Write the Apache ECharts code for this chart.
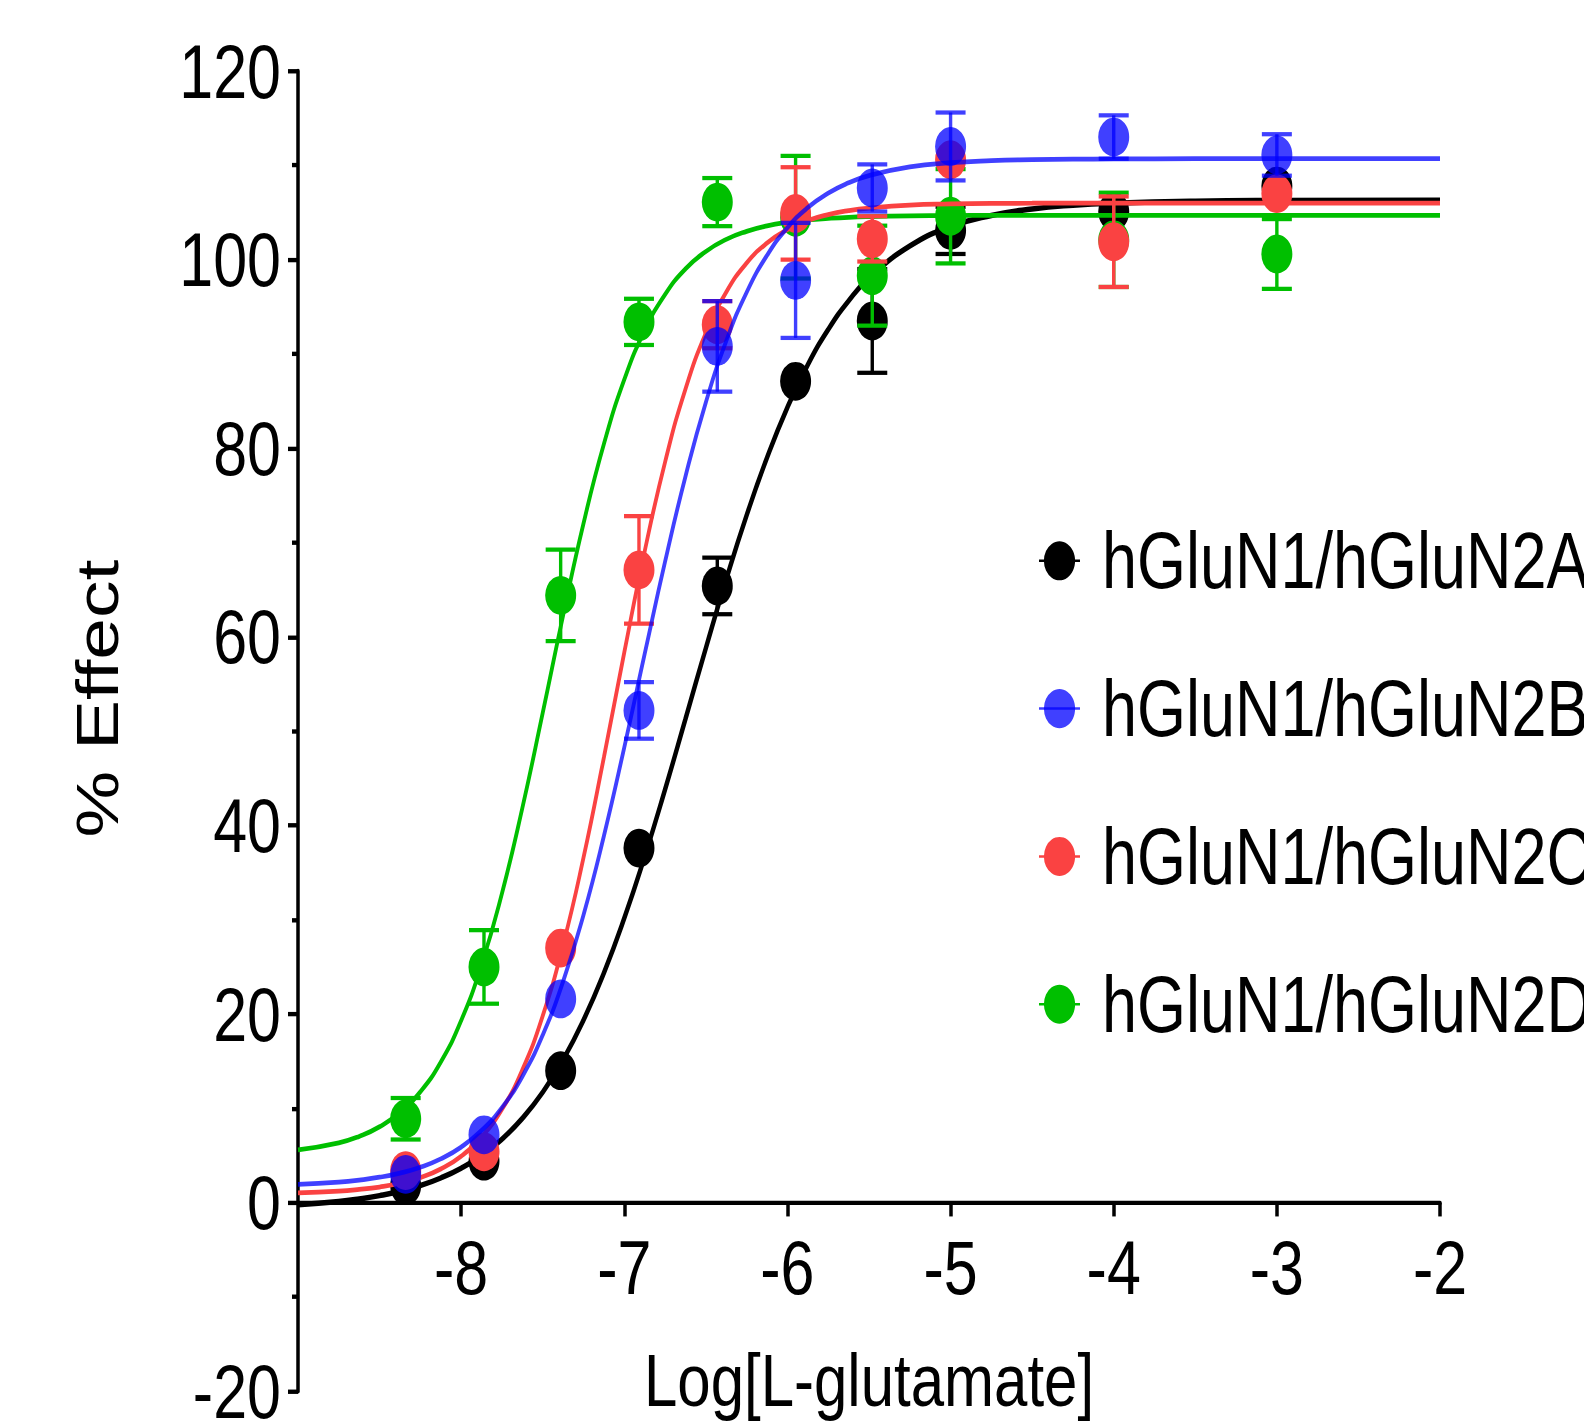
<!DOCTYPE html>
<html>
<head>
<meta charset="utf-8">
<script src="https://cdn.jsdelivr.net/npm/echarts@6/dist/echarts.min.js"></script>
<style>
    html, body { margin: 0; padding: 0; background: #fff; width: 1584px; height: 1428px; overflow: hidden; }
    /* the original figure is stretched vertically, so the chart is drawn flat and scaled */
    #chart { width: 1584px; height: 1146px; transform: scaleY(1.25044); transform-origin: 0 0; }
</style>
</head>
<body>
<div id="chart"></div>
<script>
const seriesNames = ['hGluN1/hGluN2A', 'hGluN1/hGluN2B', 'hGluN1/hGluN2C', 'hGluN1/hGluN2D'];

// log[M] of the tested concentrations
const doseLog = [-8.34, -7.86, -7.39, -6.91, -6.43, -5.95, -5.48, -5.0, -4.0, -3.0];

const meanN2A = [1.8, 4.4, 14.0, 37.6, 65.4, 87.1, 93.5, 103.1, 105.1, 107.8];
const semN2A = [0.5, 0.8, 0.8, 1.0, 3.0, 1.0, 5.5, 2.5, 1.6, 1.5];
const meanN2B = [3.0, 7.2, 21.6, 52.2, 90.8, 97.8, 107.6, 112.0, 113.0, 111.1];
const semN2B = [0.5, 1.0, 1.0, 3.0, 4.8, 6.1, 2.5, 3.6, 2.3, 2.2];
const meanN2C = [3.4, 5.4, 27.0, 67.1, 93.1, 104.9, 102.2, 110.6, 101.9, 107.0];
const semN2C = [0.7, 1.0, 1.0, 5.7, 2.5, 4.9, 2.4, 1.5, 4.8, 1.0];
const meanN2D = [8.9, 25.0, 64.4, 93.4, 106.1, 104.5, 98.3, 104.6, 102.1, 100.6];
const semN2D = [2.2, 3.9, 4.85, 2.45, 2.55, 6.5, 5.3, 5.0, 5.0, 3.7];

// fitted curves
const fitX = [-9, -8.75, -8.625, -8.5, -8.375, -8.25, -8.125, -8, -7.875, -7.75, -7.625, -7.5,
              -7.375, -7.25, -7.125, -7, -6.875, -6.75, -6.625, -6.5, -6.375, -6.25, -6.125, -6,
              -5.875, -5.75, -5.625, -5.5, -5.25, -5, -4.75, -4.5, -4.25, -4, -3.5, -3, -2];
const fitN2A = [-0.23, 0.13, 0.40, 0.75, 1.21, 1.82, 2.62, 3.66, 5.00, 6.73, 8.94, 11.71,
                15.16, 19.36, 24.36, 30.17, 36.71, 43.82, 51.29, 58.81, 66.10, 72.89, 79.0, 84.34,
                88.86, 92.59, 95.63, 98.05, 101.44, 103.49, 104.68, 105.37, 105.77, 105.99, 106.2, 106.27, 106.3];
const fitN2B = [1.93, 2.19, 2.40, 2.70, 3.14, 3.76, 4.65, 5.90, 7.66, 10.08, 13.38, 17.78,
                23.46, 30.51, 38.89, 48.29, 58.19, 67.97, 77.01, 84.87, 91.37, 96.53, 100.45, 103.39,
                105.52, 107.05, 108.14, 108.91, 109.83, 110.28, 110.5, 110.6, 110.65, 110.68, 110.7, 110.7, 110.7];
const fitN2C = [1.04, 1.22, 1.40, 1.66, 2.06, 2.66, 3.57, 4.93, 6.96, 9.89, 14.08, 19.81,
                27.33, 36.59, 47.22, 58.36, 69.07, 78.53, 86.28, 92.21, 96.56, 99.64, 101.76, 103.19,
                104.15, 104.78, 105.2, 105.47, 105.78, 105.9, 105.96, 105.98, 106.0, 106.0, 106.0, 106.0, 106.0];
const fitN2D = [5.59, 6.35, 7.03, 8.05, 9.56, 11.76, 14.91, 19.31, 25.22, 32.78, 41.84, 51.94,
                62.28, 72.02, 80.45, 87.28, 92.49, 96.31, 99.02, 100.87, 102.15, 103.0, 103.58, 103.96,
                104.21, 104.37, 104.49, 104.56, 104.64, 104.67, 104.69, 104.7, 104.7, 104.7, 104.7, 104.7, 104.7];

const colors = ['#000000', '#0000ff', '#fa4242', '#00bf00'];
const alphas = [1, 0.75, 1, 1];
const lineWidths = [4.4, 3.8, 3.8, 3.8];
const zBase = [2, 8, 6, 4];   // black under green under red under blue
const markerSize = 31;

const means = [meanN2A, meanN2B, meanN2C, meanN2D];
const sems = [semN2A, semN2B, semN2C, semN2D];
const fits = [fitN2A, fitN2B, fitN2C, fitN2D];

const fontFamily = "'Liberation Sans', Arial, Helvetica, sans-serif";

// grid geometry (unscaled px): y runs -20..120, the x axis sits on y = 0
const chartHeight = 1146;
const gridTop = 56.8;
const gridBottom = 33.35;
const gridHeight = chartHeight - gridTop - gridBottom;
const zeroOffset = gridHeight * 20 / 140;

const series = [];
seriesNames.forEach((name, k) => {
    const color = colors[k];
    const alpha = alphas[k];
    series.push({
        name: name,
        type: 'line',
        z: zBase[k],
        smooth: true,
        showSymbol: false,
        symbol: 'circle',
        lineStyle: { color: color, width: lineWidths[k], opacity: alpha },
        itemStyle: { color: color, opacity: alpha },
        data: fitX.map((x, i) => [x, fits[k][i]])
    });
    series.push({
        name: name + ' points',
        type: 'scatter',
        z: zBase[k] + 1,
        symbol: 'circle',
        symbolSize: markerSize,
        itemStyle: { color: color, opacity: alpha },
        data: doseLog.map((x, i) => [x, means[k][i]])
    });
    series.push({
        name: name + ' sem',
        type: 'custom',
        z: zBase[k] + 1,
        encode: { x: 0, y: 1 },
        renderItem: (params, api) => {
            const x = api.value(0);
            const m = api.value(1);
            const e = api.value(2);
            const top = api.coord([x, m + e]);
            const bot = api.coord([x, m - e]);
            // bars shorter than the symbol are hidden, like in the original
            if ((bot[1] - top[1]) / 2 < markerSize / 2) {
                return null;
            }
            const st = { stroke: color, lineWidth: 3.4, opacity: alpha };
            return {
                type: 'group',
                children: [
                    { type: 'line', shape: { x1: top[0], y1: top[1], x2: bot[0], y2: bot[1] }, style: st },
                    { type: 'line', shape: { x1: top[0] - 15, y1: top[1], x2: top[0] + 15, y2: top[1] }, style: st },
                    { type: 'line', shape: { x1: bot[0] - 15, y1: bot[1], x2: bot[0] + 15, y2: bot[1] }, style: st }
                ]
            };
        },
        data: doseLog.map((x, i) => [x, means[k][i], sems[k][i]])
    });
});

const chart = echarts.init(document.getElementById('chart'), null, { renderer: 'svg' });

const option = {
    animation: false,
    backgroundColor: '#ffffff',
    textStyle: { fontFamily: fontFamily },
    grid: {
        left: 298, right: 144, top: gridTop, bottom: gridBottom,
        containLabel: false, outerBoundsMode: 'none'
    },
    legend: {
        data: seriesNames,
        orient: 'vertical',
        left: 1038,
        top: 417,
        padding: 0,
        itemGap: 55.2,
        itemWidth: 41,
        itemHeight: 39,
        selectedMode: false,
        textStyle: { fontSize: 63, lineHeight: 63, color: '#000', fontFamily: fontFamily, padding: [0, 0, 0, 17] }
    },
    xAxis: {
        type: 'value',
        min: -9,
        max: -2,
        interval: 1,
        offset: -zeroOffset,
        axisLine: { onZero: false, lineStyle: { color: '#000', width: 3.5 } },
        axisTick: { length: 11, lineStyle: { color: '#000', width: 3.5 } },
        axisLabel: { showMinLabel: false, fontSize: 61, color: '#000', margin: 21, fontFamily: fontFamily },
        splitLine: { show: false },
        name: 'Log[L-glutamate]',
        nameLocation: 'middle',
        nameGap: 112,
        nameMoveOverlap: false,
        nameTextStyle: { fontSize: 60, color: '#000', fontFamily: fontFamily }
    },
    yAxis: {
        type: 'value',
        min: -20,
        max: 120,
        interval: 20,
        axisLine: { show: true, onZero: false, lineStyle: { color: '#000', width: 3.5 } },
        axisTick: { show: true, length: 10, lineStyle: { color: '#000', width: 3.5 } },
        minorTick: { show: true, splitNumber: 2, length: 6, lineStyle: { color: '#000', width: 3.5 } },
        axisLabel: { fontSize: 61, color: '#000', margin: 17, fontFamily: fontFamily },
        splitLine: { show: false },
        name: '% Effect',
        nameLocation: 'middle',
        nameRotate: 90,
        nameGap: 171,
        nameMoveOverlap: false,
        nameTextStyle: { fontSize: 60, color: '#000', fontFamily: fontFamily, padding: [0, 0, 0, 52] }
    },
    series: series
};
chart.setOption(option);
</script>
</body>
</html>
